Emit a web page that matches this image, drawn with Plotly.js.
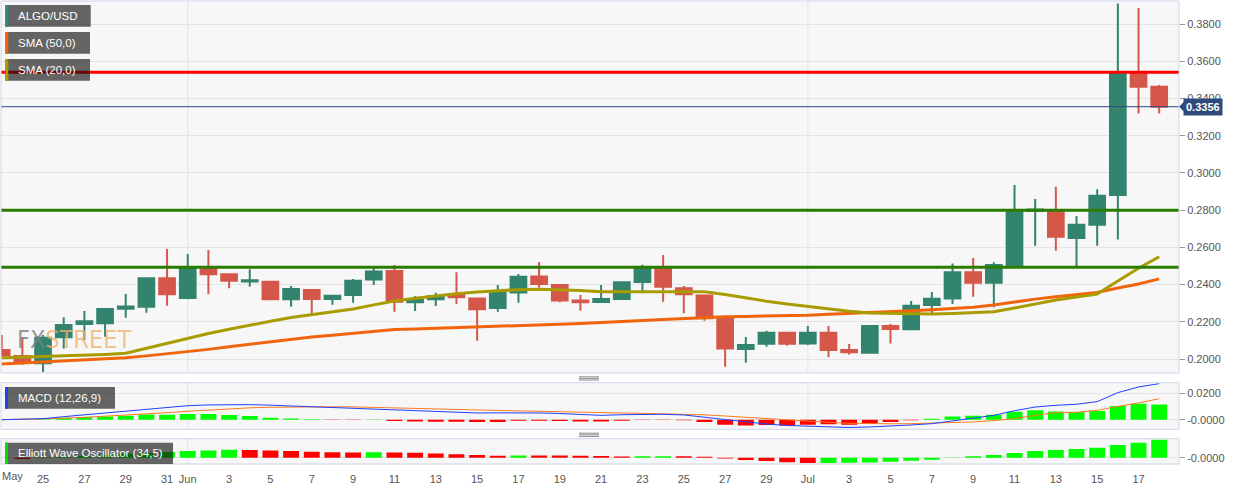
<!DOCTYPE html>
<html><head><meta charset="utf-8">
<script src="https://cdn.plot.ly/plotly-3.0.1.min.js"></script>
<style>html,body{margin:0;padding:0;background:#fff;}#chart{width:1244px;height:490px;}</style>
</head><body><div id="chart"></div>
<script>
const dates = ['2020-05-23','2020-05-24','2020-05-25','2020-05-26','2020-05-27','2020-05-28','2020-05-29','2020-05-30','2020-05-31',
'2020-06-01','2020-06-02','2020-06-03','2020-06-04','2020-06-05','2020-06-06','2020-06-07','2020-06-08','2020-06-09','2020-06-10',
'2020-06-11','2020-06-12','2020-06-13','2020-06-14','2020-06-15','2020-06-16','2020-06-17','2020-06-18','2020-06-19','2020-06-20',
'2020-06-21','2020-06-22','2020-06-23','2020-06-24','2020-06-25','2020-06-26','2020-06-27','2020-06-28','2020-06-29','2020-06-30',
'2020-07-01','2020-07-02','2020-07-03','2020-07-04','2020-07-05','2020-07-06','2020-07-07','2020-07-08','2020-07-09','2020-07-10',
'2020-07-11','2020-07-12','2020-07-13','2020-07-14','2020-07-15','2020-07-16','2020-07-17','2020-07-18'];

const open = [.2048,.2016,.1977,.2117,.2188,.2192,.2270,.2281,.2434,
.2328,.2489,.2455,.2417,.2415,.2321,.2371,.2322,.2344,.2428,
.2473,.2305,.2321,.2348,.2326,.2274,.2358,.2444,.2398,.2315,
.2306,.2322,.2414,.2484,.2380,.2342,.2219,.2054,.2082,.2141,
.2084,.2141,.2048,.2034,.2177,.2160,.2290,.2326,.2467,.2410,
.2505,.2795,.2795,.2650,.2722,.2881,.3538,.3463];
const high = [.2129,.2113,.2129,.2224,.2258,.2272,.2349,.2437,.2591,
.2564,.2586,.2460,.2482,.2420,.2392,.2375,.2342,.2430,.2493,
.2505,.2339,.2356,.2467,.2330,.2398,.2457,.2521,.2400,.2344,
.2398,.2414,.2507,.2559,.2392,.2345,.2221,.2118,.2152,.2147,
.2177,.2177,.2081,.2180,.2188,.2312,.2360,.2514,.2543,.2520,
.2935,.2860,.2926,.2768,.2913,.3911,.3886,.3472];
const low = [.2011,.1968,.1930,.2057,.2102,.2120,.2222,.2249,.2286,
.2321,.2348,.2380,.2389,.2318,.2281,.2242,.2292,.2303,.2398,
.2254,.2258,.2285,.2296,.2098,.2254,.2303,.2383,.2305,.2260,
.2304,.2320,.2353,.2308,.2246,.2206,.1959,.1980,.2066,.2071,
.2075,.2009,.2025,.2032,.2084,.2158,.2242,.2296,.2335,.2278,
.2500,.2609,.2582,.2496,.2609,.2643,.3320,.3320];
const close = [.2021,.1984,.2114,.2183,.2203,.2269,.2283,.2434,.2348,
.2485,.2455,.2421,.2424,.2321,.2376,.2322,.2340,.2421,.2471,
.2308,.2317,.2339,.2332,.2267,.2356,.2442,.2403,.2315,.2305,
.2322,.2412,.2484,.2389,.2348,.2219,.2057,.2075,.2141,.2082,
.2141,.2048,.2036,.2177,.2161,.2286,.2324,.2467,.2410,.2505,
.2795,.2803,.2657,.2722,.2877,.3538,.3463,.3356];

const sma50 = [.1973,.1978,.1984,.1989,.1995,.2001,.2007,.2017,.2028,
.2039,.2052,.2066,.2080,.2094,.2107,.2118,.2128,.2139,.2149,
.2159,.2162,.2165,.2168,.2171,.2174,.2178,.2182,.2187,.2191,
.2195,.2201,.2207,.2213,.2219,.2224,.2227,.2229,.2231,.2234,
.2236,.2241,.2245,.2250,.2254,.2259,.2265,.2271,.2278,.2290,
.2308,.2322,.2335,.2347,.2358,.2382,.2403,.2431];
const sma20 = [.2007,.2010,.2013,.2016,.2020,.2025,.2031,.2058,.2086,
.2113,.2137,.2160,.2183,.2203,.2223,.2238,.2253,.2269,.2291,
.2312,.2327,.2341,.2351,.2360,.2367,.2373,.2375,.2373,.2368,
.2362,.2360,.2361,.2362,.2363,.2362,.2347,.2328,.2311,.2296,
.2282,.2269,.2257,.2247,.2244,.2242,.2242,.2245,.2249,.2254,
.2274,.2296,.2317,.2333,.2349,.2419,.2488,.2550];

const macdLine = [0.0000,0.0003,0.0008,0.0023,0.0037,0.0050,0.0065,0.0080,0.0096,
0.0106,0.0112,0.0114,0.0114,0.0110,0.0104,0.0096,0.0092,0.0089,0.0083,
0.0075,0.0068,0.0063,0.0055,0.0051,0.0052,0.0053,0.0051,0.0047,0.0040,
0.0033,0.0038,0.0041,0.0041,0.0036,0.0018,0.0000,-0.0015,-0.0033,-0.0044,
-0.0049,-0.0058,-0.0059,-0.0055,-0.0050,-0.0040,-0.0030,-0.0010,0.0008,0.0033,
0.0068,0.0096,0.0109,0.0117,0.0137,0.0205,0.0248,0.0273];
const signalLine = [0.0000,0.0002,0.0005,0.0011,0.0018,0.0026,0.0035,0.0044,0.0053,
0.0064,0.0074,0.0082,0.0090,0.0094,0.0097,0.0098,0.0098,0.0097,0.0094,
0.0091,0.0088,0.0082,0.0078,0.0074,0.0070,0.0066,0.0063,0.0060,0.0057,
0.0054,0.0051,0.0048,0.0046,0.0043,0.0037,0.0028,0.0018,0.0007,-0.0005,
-0.0013,-0.0020,-0.0027,-0.0030,-0.0031,-0.0030,-0.0026,-0.0021,-0.0017,-0.0007,
0.0008,0.0033,0.0053,0.0056,0.0071,0.0101,0.0127,0.0159];
const macdHist = [-0.0002,0.0001,0.0004,0.0015,0.0020,0.0025,0.0030,0.0040,0.0038,
0.0043,0.0043,0.0035,0.0028,0.0015,0.0010,0.0003,-0.0003,-0.0002,0.0002,
-0.0010,-0.0013,-0.0015,-0.0015,-0.0018,-0.0018,-0.0008,-0.0008,-0.0010,-0.0013,
-0.0013,-0.0008,-0.0003,-0.0003,-0.0005,-0.0018,-0.0038,-0.0043,-0.0040,-0.0043,
-0.0038,-0.0035,-0.0038,-0.0028,-0.0018,-0.0004,0.0008,0.0025,0.0030,0.0038,
0.0061,0.0071,0.0063,0.0058,0.0066,0.0104,0.0121,0.0116];
const ewo = [-0.0012,-0.0048,-0.0020,0.0032,0.0080,0.0120,0.0160,0.0200,0.0228,
0.0268,0.0292,0.0320,0.0308,0.0292,0.0268,0.0240,0.0220,0.0208,0.0216,
0.0212,0.0200,0.0168,0.0140,0.0112,0.0080,0.0092,0.0088,0.0084,0.0080,
0.0068,0.0052,0.0056,0.0060,0.0056,0.0040,-0.0032,-0.0092,-0.0132,-0.0180,
-0.0212,-0.0208,-0.0200,-0.0188,-0.0160,-0.0120,-0.0080,-0.0008,0.0060,0.0108,
0.0188,0.0268,0.0308,0.0348,0.0400,0.0508,0.0600,0.0720];

const resistanceLevels = [0.3541];
const supportLevels = [0.2800, 0.2493];
const currentPrice = 0.3356;
const monthStarts = ['2020-06-01','2020-07-01'];
const tickDates = ['2020-05-25','2020-05-27','2020-05-29','2020-05-31','2020-06-01','2020-06-03','2020-06-05','2020-06-07','2020-06-09','2020-06-11','2020-06-13','2020-06-15','2020-06-17','2020-06-19','2020-06-21','2020-06-23','2020-06-25','2020-06-27','2020-06-29','2020-07-01','2020-07-03','2020-07-05','2020-07-07','2020-07-09','2020-07-11','2020-07-13','2020-07-15','2020-07-17'];
const tickLabels = ['25','27','29','31','Jun','3','5','7','9','11','13','15','17','19','21','23','25','27','29','Jul','3','5','7','9','11','13','15','17'];
const firstMonthLabel = 'May';

// layout helpers (pixel -> paper)
const L = 1, R = 65, T = 1, B = 26, W = 1244, H = 490;
const PW = W - L - R, PH = H - T - B;
const px = x => (x - L) / PW;
const py = y => (H - B - y) / PH;

const FONT = 'Liberation Sans, Arial, sans-serif';
const GREEN = '#33846f', RED = '#d4574a';
const DAY = 86400000;

const traces = [
  {type:'candlestick', x:dates, open:open, high:high, low:low, close:close, xaxis:'x', yaxis:'y',
   increasing:{line:{color:GREEN, width:2}, fillcolor:GREEN},
   decreasing:{line:{color:RED, width:2}, fillcolor:RED},
   whiskerwidth:0, hoverinfo:'skip', showlegend:false},
  {type:'scatter', mode:'lines', x:dates, y:sma50, xaxis:'x', yaxis:'y', line:{color:'#f0650c', width:3}, hoverinfo:'skip', showlegend:false},
  {type:'scatter', mode:'lines', x:dates, y:sma20, xaxis:'x', yaxis:'y', line:{color:'#a99c00', width:3}, hoverinfo:'skip', showlegend:false},
  {type:'bar', x:dates, y:macdHist, xaxis:'x', yaxis:'y2', width:0.77*DAY,
   marker:{color:macdHist.map(v => v >= 0 ? '#00ff00' : '#ff0000'), line:{width:0}}, hoverinfo:'skip', showlegend:false},
  {type:'scatter', mode:'lines', x:dates, y:signalLine, xaxis:'x', yaxis:'y2', line:{color:'#ff7a1a', width:1}, hoverinfo:'skip', showlegend:false},
  {type:'scatter', mode:'lines', x:dates, y:macdLine, xaxis:'x', yaxis:'y2', line:{color:'#1f3fff', width:1}, hoverinfo:'skip', showlegend:false},
  {type:'bar', x:dates, y:ewo, xaxis:'x', yaxis:'y3', width:0.77*DAY,
   marker:{color:ewo.map((v,i) => (i === 0 || v >= ewo[i-1]) ? '#00ff00' : '#ff0000'), line:{width:0}}, hoverinfo:'skip', showlegend:false}
];

const shapes = [];
const panels = ['y','y2','y3'];
panels.forEach(p => shapes.push({type:'rect', xref:'paper', x0:0, x1:1, yref:p+' domain', y0:0, y1:1, fillcolor:'#f7f7f7', line:{width:0}, layer:'below'}));
panels.forEach(p => monthStarts.forEach(m => shapes.push({type:'line', xref:'x', x0:m, x1:m, yref:p+' domain', y0:0, y1:1, line:{color:'#e3e3e3', width:1}, layer:'below'})));
resistanceLevels.forEach(v => shapes.push({type:'line', xref:'paper', x0:0, x1:1, yref:'y', y0:v, y1:v, line:{color:'#ff0000', width:3}, layer:'above'}));
supportLevels.forEach(v => shapes.push({type:'line', xref:'paper', x0:0, x1:1, yref:'y', y0:v, y1:v, line:{color:'#2a7d00', width:3}, layer:'above'}));
shapes.push({type:'line', xref:'paper', x0:0, x1:1, yref:'y', y0:currentPrice, y1:currentPrice, line:{color:'#2e4a7c', width:1}, layer:'above'});
shapes.push({type:'path', xref:'paper', xsizemode:'pixel', xanchor:1, yref:'y', ysizemode:'pixel', yanchor:currentPrice,
  path:'M0,0 L5,5 L5,-5 Z', fillcolor:'#2e4a7c', line:{width:0}, layer:'above'});
panels.forEach(p => shapes.push({type:'rect', xref:'paper', x0:0, x1:1, yref:p+' domain', y0:0, y1:1, fillcolor:'rgba(0,0,0,0)', line:{color:'#cdd5e5', width:1}, layer:'above'}));
// drag handles between panels
[[376.8,378.4,380],[433.2,434.8,436.4]].forEach(g => g.forEach(y => shapes.push({type:'line', xref:'paper', yref:'paper', x0:px(579), x1:px(599), y0:py(y), y1:py(y), line:{color:'#8a8a8a', width:1}, layer:'above'})));

// legend boxes
const boxes = [
  {x0:5.3, x1:90.7, y0:5, y1:26.7, strip:'#2e8b74', text:'ALGO/USD'},
  {x0:5.3, x1:90, y0:32, y1:53.7, strip:'#f0650c', text:'SMA (50,0)'},
  {x0:5.3, x1:90, y0:59, y1:80.7, strip:'#a99c00', text:'SMA (20,0)'},
  {x0:5, x1:115, y0:387, y1:408.7, strip:'#1f3fff', text:'MACD (12,26,9)'},
  {x0:5, x1:173, y0:442.7, y1:464, strip:'#00e000', text:'Elliott Wave Oscillator (34,5)'}
];
const annotations = [];
boxes.forEach(b => {
  shapes.push({type:'rect', xref:'paper', yref:'paper', x0:px(b.x0), x1:px(b.x1), y0:py(b.y1), y1:py(b.y0), fillcolor:'rgba(10,10,10,0.62)', line:{width:0}, layer:'above'});
  shapes.push({type:'rect', xref:'paper', yref:'paper', x0:px(b.x0), x1:px(b.x0+3), y0:py(b.y1), y1:py(b.y0), fillcolor:b.strip, line:{width:0}, layer:'above'});
  annotations.push({xref:'paper', yref:'paper', x:px(b.x0+10.5), y:py((b.y0+b.y1)/2), xanchor:'left', yanchor:'middle', showarrow:false,
    text:b.text, font:{family:FONT, size:11.5, color:'#ffffff'}});
});
annotations.push({xref:'paper', yref:'y', x:1, y:currentPrice, xanchor:'left', yanchor:'middle', xshift:4, showarrow:false,
  text:'<b>' + currentPrice.toFixed(4) + '</b>', bgcolor:'#2e4a7c', borderpad:2, font:{family:FONT, size:11, color:'#ffffff'}});
annotations.push({xref:'paper', yref:'paper', x:px(0), y:py(476), xanchor:'left', yanchor:'middle', showarrow:false,
  text:firstMonthLabel, font:{family:FONT, size:11, color:'#555'}});
annotations.push({xref:'paper', yref:'paper', x:px(15), y:py(339), xanchor:'left', yanchor:'middle', showarrow:false,
  text:'<span style="color:rgba(125,125,135,0.8)">FX</span><span style="color:rgba(240,178,105,0.75)">STREET</span>',
  font:{family:'Liberation Sans Narrow, DejaVu Sans Condensed, sans-serif', size:25}});

const yTick = {tickfont:{family:FONT, size:11, color:'#555'}, ticks:'outside', ticklen:5, tickcolor:'#999', side:'right', anchor:'x',
  showgrid:true, gridcolor:'#e4e4e4', gridwidth:1, zeroline:false, showline:false, fixedrange:true};

const layout = {
  width:W, height:H, margin:{l:L, r:R, t:T, b:B, pad:0},
  paper_bgcolor:'#ffffff', plot_bgcolor:'#ffffff', showlegend:false, boxgap:0.24, boxgroupgap:0,
  font:{family:FONT, size:11, color:'#555'},
  xaxis:{type:'date', range:['2020-05-22 23:10','2020-07-18 23:00'], anchor:'y3', showgrid:false, zeroline:false, showline:false,
    ticks:'', ticklabelstandoff:7, tickvals:tickDates, ticktext:tickLabels, tickfont:{family:FONT, size:11, color:'#555'}, rangeslider:{visible:false}, fixedrange:true},
  yaxis:Object.assign({}, yTick, {domain:[py(373), 1], range:[0.1925, 0.3924], tick0:0.2, dtick:0.02, tickformat:'.4f'}),
  yaxis2:Object.assign({}, yTick, {domain:[py(429.3), py(382.7)], range:[-0.00727, 0.02803], tickvals:[0, 0.02], ticktext:['-0.0000','0.0200']}),
  yaxis3:Object.assign({}, yTick, {domain:[0, py(438.7)], range:[-0.0252, 0.076], tickvals:[0], ticktext:['-0.0000']}),
  shapes:shapes, annotations:annotations
};

Plotly.newPlot('chart', traces, layout, {staticPlot:true, displayModeBar:false});
</script>
</body></html>
